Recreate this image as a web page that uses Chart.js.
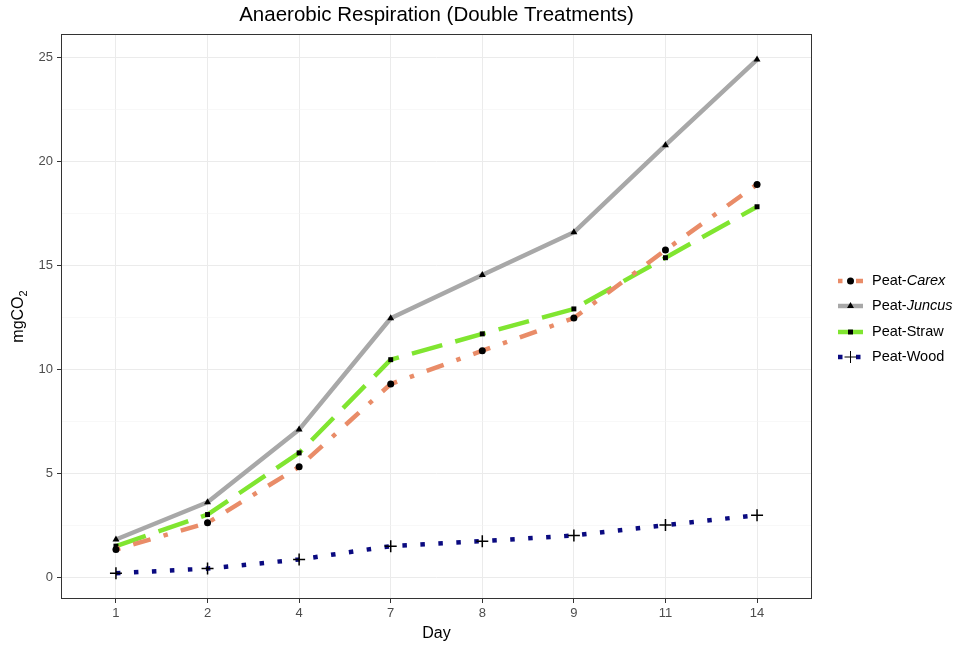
<!DOCTYPE html>
<html>
<head>
<meta charset="utf-8">
<script src="https://cdn.jsdelivr.net/npm/chart.js@4.4.1/dist/chart.umd.min.js"></script>
<style>
  html, body { margin: 0; padding: 0; background: #fff; }
</style>
</head>
<body>
<canvas id="respChart" width="958" height="648"></canvas>
<script>
// sampling days (shown as evenly spaced categories)
const days = ["1", "2", "4", "7", "8", "9", "11", "14"];

// cumulative CO2 per treatment
const peatCarex = [1.34, 2.62, 5.31, 9.29, 10.89, 12.46, 15.73, 18.88];
const peatJuncus = [1.82, 3.61, 7.10, 12.45, 14.53, 16.58, 20.77, 24.88];
const peatStraw = [1.50, 3.02, 5.98, 10.46, 11.70, 12.90, 15.36, 17.81];
const peatWood = [0.20, 0.42, 0.86, 1.50, 1.74, 2.01, 2.51, 2.99];

const yMajor = [0, 5, 10, 15, 20, 25];
const yMinor = [2.5, 7.5, 12.5, 17.5, 22.5];

const FONT = "'Liberation Sans', Arial, sans-serif";
const LW = 4.5;

function toPoints(vals) {
  return vals.map((v, i) => ({ x: i, y: v }));
}

const series = [
  { name: "Peat-", italic: "Carex", data: peatCarex, color: "#E98C68", dash: [LW, LW * 3, LW * 4, LW * 3], style: "circle", r: 3.5 },
  { name: "Peat-", italic: "Juncus", data: peatJuncus, color: "#A8A8A8", dash: [], style: "triangle", r: 4 },
  { name: "Peat-Straw", italic: "", data: peatStraw, color: "#80E530", dash: [LW * 7, LW * 3], style: "rect", r: 3.5 },
  { name: "Peat-Wood", italic: "", data: peatWood, color: "#0A0A80", dash: [LW, LW * 3], style: "cross", r: 6 }
];

// titles, panel border and the legend are painted by hand
const decorations = {
  id: "decorations",
  afterDraw(chart) {
    const ctx = chart.ctx;
    const a = chart.chartArea;
    ctx.save();

    ctx.strokeStyle = "#333333";
    ctx.lineWidth = 1;
    ctx.strokeRect(a.left + 0.5, a.top + 0.5, a.right - a.left - 1, a.bottom - a.top - 1);

    const cx = (a.left + a.right) / 2;
    ctx.fillStyle = "#000";
    ctx.textAlign = "center";
    ctx.textBaseline = "middle";
    ctx.font = "20.5px " + FONT;
    ctx.fillText("Anaerobic Respiration (Double Treatments)", cx, 15.5);

    ctx.font = "16px " + FONT;
    ctx.fillText("Day", cx, 634);

    // y title with subscript
    ctx.save();
    ctx.translate(19, (a.top + a.bottom) / 2);
    ctx.rotate(-Math.PI / 2);
    ctx.font = "16px " + FONT;
    const main = "mgCO";
    const wMain = ctx.measureText(main).width;
    ctx.font = "11px " + FONT;
    const wSub = ctx.measureText("2").width;
    const start = -(wMain + wSub) / 2;
    ctx.textAlign = "left";
    ctx.font = "16px " + FONT;
    ctx.fillText(main, start, 0);
    ctx.font = "11px " + FONT;
    ctx.fillText("2", start + wMain, 5);
    ctx.restore();

    // legend
    const rows = [281, 306, 332, 357];
    chart.data.datasets.forEach((ds, i) => {
      const s = series[i];
      const y = rows[i];
      ctx.save();
      ctx.strokeStyle = ds.borderColor;
      ctx.lineWidth = LW;
      ctx.lineCap = "butt";
      ctx.setLineDash(ds.borderDash);
      ctx.beginPath();
      ctx.moveTo(838, y);
      ctx.lineTo(863, y);
      ctx.stroke();
      ctx.restore();
      ctx.fillStyle = "#000";
      ctx.strokeStyle = "#000";
      Chart.helpers.drawPoint(ctx, {
        pointStyle: ds.pointStyle,
        radius: ds.pointRadius,
        rotation: 0,
        borderWidth: ds.pointBorderWidth
      }, 850.5, y);
      ctx.textAlign = "left";
      ctx.textBaseline = "middle";
      ctx.font = "14.5px " + FONT;
      ctx.fillText(s.name, 872, y);
      if (s.italic) {
        const w = ctx.measureText(s.name).width;
        ctx.font = "italic 14.5px " + FONT;
        ctx.fillText(s.italic, 872 + w, y);
      }
    });

    ctx.restore();
  }
};

const datasets = series.map(s => ({
  label: s.name + s.italic,
  data: toPoints(s.data),
  borderColor: s.color,
  backgroundColor: s.color,
  borderWidth: LW,
  borderDash: s.dash,
  borderCapStyle: "butt",
  borderJoinStyle: "round",
  tension: 0,
  fill: false,
  pointStyle: s.style,
  pointRadius: s.r,
  pointHoverRadius: s.r,
  pointBackgroundColor: "#000",
  pointBorderColor: "#000",
  pointBorderWidth: s.style === "cross" ? 1.5 : 0
}));

new Chart(document.getElementById("respChart"), {
  type: "line",
  data: { datasets },
  options: {
    responsive: false,
    animation: false,
    events: [],
    layout: { padding: { left: 0, top: 34, right: 146, bottom: 0 } },
    plugins: {
      legend: { display: false },
      title: { display: false },
      tooltip: { enabled: false }
    },
    scales: {
      x: {
        type: "linear",
        min: -0.6,
        max: days.length - 0.4,
        afterBuildTicks: s => { s.ticks = days.map((d, i) => ({ value: i })); },
        afterFit: s => { s.height = 49; },
        border: { display: false },
        grid: { color: "#EBEBEB", lineWidth: 1, tickColor: "#333333", tickLength: 4 },
        ticks: {
          callback: v => days[v],
          color: "#4D4D4D",
          font: { family: FONT, size: 13 },
          padding: 3,
          maxRotation: 0
        }
      },
      y: {
        type: "linear",
        min: -1.04,
        max: 26.11,
        afterBuildTicks: s => {
          s.ticks = yMajor.concat(yMinor).sort((p, q) => p - q).map(v => ({ value: v }));
        },
        afterFit: s => { s.width = 61; },
        border: { display: false },
        grid: {
          color: c => (c.tick && c.tick.value % 5 === 0) ? "#EBEBEB" : "#F4F4F4",
          lineWidth: c => (c.tick && c.tick.value % 5 === 0) ? 1 : 0.6,
          tickColor: c => (c.tick && c.tick.value % 5 === 0) ? "#333333" : "rgba(0,0,0,0)",
          tickLength: 4
        },
        ticks: {
          callback: v => (v % 5 === 0 ? String(v) : ""),
          color: "#4D4D4D",
          font: { family: FONT, size: 13 },
          padding: 4
        }
      }
    }
  },
  plugins: [decorations]
});
</script>
</body>
</html>
